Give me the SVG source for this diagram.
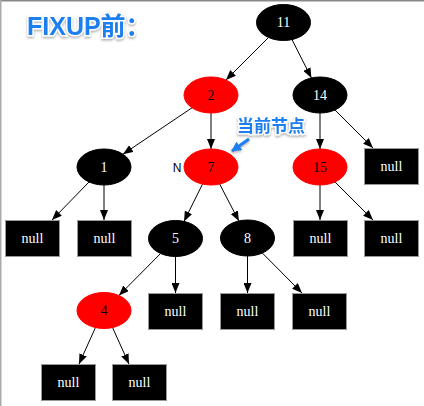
<svg xmlns="http://www.w3.org/2000/svg" width="424" height="406" viewBox="0 0 424 406">
<style>
.b{fill:#000;stroke:#000}
.r{fill:#f00;stroke:#f00}
.nl{fill:#000;stroke:#999;stroke-width:1}
.tw{font-family:"Liberation Serif",serif;font-size:14px;fill:#fff;text-anchor:middle}
.tb{font-family:"Liberation Serif",serif;font-size:14px;fill:#000;text-anchor:middle}
.e{stroke:#000;stroke-width:1;fill:none;marker-end:url(#ah)}
.ann{font-family:"Liberation Sans","Noto Sans CJK SC",sans-serif;font-weight:bold;fill:#1f7fef;stroke:#fff;stroke-width:3;paint-order:stroke;filter:url(#sh)}
</style>
<defs>
<marker id="ah" markerUnits="userSpaceOnUse" markerWidth="10" markerHeight="8" refX="10" refY="4" orient="auto">
<path d="M0,0 L10,4 L0,8 Z" fill="#000"/>
</marker>
<marker id="bh" markerUnits="userSpaceOnUse" markerWidth="10" markerHeight="10" refX="9" refY="5" orient="auto">
<path d="M0,0 L10,5 L0,10 Z" fill="#1f7fef"/>
</marker>
<filter id="sh" x="-20%" y="-30%" width="140%" height="160%">
<feDropShadow dx="0" dy="1.5" stdDeviation="1.2" flood-color="#777" flood-opacity="0.6"/>
</filter>
</defs>
<rect x="0" y="0" width="424" height="406" fill="#fff"/>
<rect x="0" y="0" width="424" height="1.5" fill="#888"/>
<rect x="0" y="0" width="1.5" height="406" fill="#aaa"/>

<text class="ann" x="27" y="35" font-size="25">FIXUP前：</text>

<g id="connectors">
<path class="e" d="M268.5,37.5 L226,80"/>
<path class="e" d="M292,39.6 L311.4,77.9"/>
<path class="e" d="M192,107.8 L123,154.2"/>
<path class="e" d="M211,113 L211,149"/>
<path class="e" d="M320,113 L320,149"/>
<path class="e" d="M335,110 L373,148"/>
<path class="e" d="M89,182 L52,220"/>
<path class="e" d="M104,185 L104,220"/>
<path class="e" d="M202.5,184.1 L184,221.4"/>
<path class="e" d="M219.6,183.9 L238.9,221.1"/>
<path class="e" d="M320,185 L320,220"/>
<path class="e" d="M335,182 L373,220"/>
<path class="e" d="M160.5,253.6 L119,295.4"/>
<path class="e" d="M175.5,256.5 L175.5,293"/>
<path class="e" d="M247.5,256 L247.5,293"/>
<path class="e" d="M262.4,253.1 L302,293"/>
<path class="e" d="M95.4,327.7 L79,364"/>
<path class="e" d="M112.6,327.7 L129,364"/>
</g>

<g id="n11"><ellipse class="b" cx="283.5" cy="22.5" rx="27" ry="18"/><text class="tw" x="283.5" y="27">11</text></g>
<g id="n2"><ellipse class="r" cx="211" cy="95" rx="27" ry="18"/><text class="tb" x="211" y="99.5">2</text></g>
<g id="n14"><ellipse class="b" cx="320" cy="95" rx="27" ry="18"/><text class="tw" x="320" y="99.5">14</text></g>
<g id="n1"><ellipse class="b" cx="104" cy="167" rx="27" ry="18"/><text class="tw" x="104" y="171.5">1</text></g>
<g id="n7"><ellipse class="r" cx="211" cy="167" rx="27" ry="18"/><text class="tb" x="211" y="171.5">7</text></g>
<g id="n15"><ellipse class="r" cx="320" cy="167" rx="27" ry="18"/><text class="tb" x="320" y="171.5">15</text></g>
<g id="null14"><rect class="nl" x="364.5" y="148.5" width="54" height="36"/><text class="tw" x="391.5" y="171">null</text></g>
<g id="null1a"><rect class="nl" x="5.5" y="220.5" width="54" height="36"/><text class="tw" x="32.5" y="243">null</text></g>
<g id="null1b"><rect class="nl" x="77.5" y="220.5" width="54" height="36"/><text class="tw" x="104.5" y="243">null</text></g>
<g id="n5"><ellipse class="b" cx="175.5" cy="238.5" rx="27" ry="18"/><text class="tw" x="175.5" y="243">5</text></g>
<g id="n8"><ellipse class="b" cx="247.5" cy="238" rx="27" ry="18"/><text class="tw" x="247.5" y="242.5">8</text></g>
<g id="null15a"><rect class="nl" x="293.5" y="220.5" width="54" height="36"/><text class="tw" x="320.5" y="243">null</text></g>
<g id="null15b"><rect class="nl" x="364.5" y="220.5" width="54" height="36"/><text class="tw" x="391.5" y="243">null</text></g>
<g id="n4"><ellipse class="r" cx="104" cy="310.5" rx="27" ry="18"/><text class="tb" x="104" y="315">4</text></g>
<g id="null5"><rect class="nl" x="148.5" y="293.5" width="54" height="36"/><text class="tw" x="175.5" y="316">null</text></g>
<g id="null8a"><rect class="nl" x="220.5" y="293.5" width="54" height="36"/><text class="tw" x="247.5" y="316">null</text></g>
<g id="null8b"><rect class="nl" x="292.5" y="293.5" width="54" height="36"/><text class="tw" x="319.5" y="316">null</text></g>
<g id="null4a"><rect class="nl" x="41.5" y="364.5" width="54" height="36"/><text class="tw" x="68.5" y="387">null</text></g>
<g id="null4b"><rect class="nl" x="112.5" y="364.5" width="54" height="36"/><text class="tw" x="139.5" y="387">null</text></g>

<text x="177" y="172" font-family="Liberation Sans,sans-serif" font-size="12" text-anchor="middle" fill="#000">N</text>

<g id="annotation">
<text class="ann" x="237" y="132" font-size="17">当前节点</text>
<path d="M249,139 L232,151" stroke="#1f7fef" stroke-width="3" fill="none" marker-end="url(#bh)" filter="url(#sh)"/>
</g>
</svg>
